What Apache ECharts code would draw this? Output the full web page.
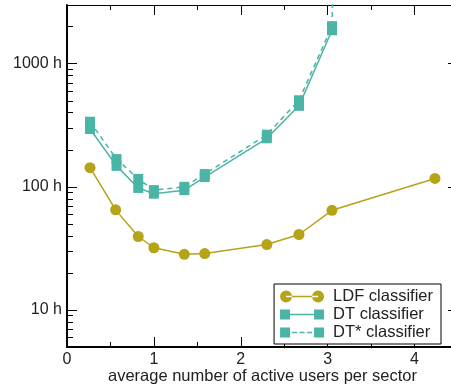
<!DOCTYPE html>
<html>
<head>
<meta charset="utf-8">
<script src="https://cdn.jsdelivr.net/npm/echarts@6/dist/echarts.min.js"></script>
<style>
  html, body { margin: 0; padding: 0; background: #fff; }
  #chart { width: 451px; height: 387px; }
</style>
</head>
<body>
<div id="chart"></div>
<script>
// 数据
const ldfX = [0.265, 0.56, 0.82, 1.0, 1.35, 1.585, 2.3, 2.67, 3.05, 4.235];
const ldfY = [143, 65, 39.5, 32, 28.3, 28.7, 34, 41, 64.5, 117];
const dtX = [0.265, 0.57, 0.82, 1.0, 1.35, 1.585, 2.3, 2.67, 3.05];
const dtY = [295, 148, 98, 88, 94, 120, 248, 455, 1870];
const dtStarX = [0.265, 0.57, 0.82, 1.0, 1.35, 1.585, 2.3, 2.67, 3.05, 3.07];
const dtStarY = [338, 168, 116, 94, 100, 127, 265, 505, 2020, 10000];
const xTicks = [0, 1, 2, 3, 4];
const yMajor = [10, 100, 1000];
const yMinor = [6, 7, 8, 9, 20, 30, 40, 50, 60, 70, 80, 90,
  200, 300, 400, 500, 600, 700, 800, 900, 2000, 3000];

const olive = "#b5a318";
const teal = "#4ab4a6";
const font = "Liberation Sans, Arial, sans-serif";

function pairs(xs, ys) {
    return xs.map(function (x, i) { return [x, ys[i]]; });
}

let chart = echarts.init(document.getElementById("chart"));

const baseX = {
    type: "value",
    min: 0,
    max: 4.5,
    interval: 1,
    splitLine: { show: false },
    axisLine: { onZero: false, lineStyle: { color: "#000", width: 1 } },
    axisTick: { inside: true, length: 10, lineStyle: { color: "#000" } },
    minorTick: { show: true, splitNumber: 2, length: 5, lineStyle: { color: "#000" } },
};

chart.setOption({
    animation: false,
    textStyle: { fontFamily: font },
    grid: {
        left: 67, top: 5, bottom: 40, right: -7,
        containLabel: false,
        outerBoundsMode: "none",
    },
    xAxis: [
        Object.assign({}, baseX, {
            position: "bottom",
            axisLine: { onZero: false, lineStyle: { color: "#000", width: 2 } },
            axisLabel: {
                customValues: xTicks,
                fontSize: 16,
                color: "#222",
                margin: 5,
                fontFamily: font,
            },
            name: "average number of active users per sector",
            nameLocation: "middle",
            nameGap: 21,
            nameMoveOverlap: false,
            nameTextStyle: { fontSize: 16.5, color: "#222", fontFamily: font },
        }),
        Object.assign({}, baseX, {
            position: "top",
            axisLabel: { show: false },
        }),
    ],
    yAxis: [
        {
            type: "log",
            logBase: 10,
            min: 5,
            max: 3000,
            position: "left",
            splitLine: { show: false },
            axisLine: { onZero: false, lineStyle: { color: "#000", width: 2 } },
            axisTick: {
                inside: true,
                length: 10,
                customValues: yMajor,
                lineStyle: { color: "#000" },
            },
            axisLabel: {
                customValues: yMajor,
                fontSize: 16,
                color: "#222",
                margin: 5,
                fontFamily: font,
                formatter: function (v) { return v + " h"; },
            },
        },
        {
            type: "log",
            logBase: 10,
            min: 5,
            max: 3000,
            position: "left",
            splitLine: { show: false },
            axisLine: { show: false, onZero: false },
            axisTick: {
                inside: true,
                length: 6,
                customValues: yMinor,
                lineStyle: { color: "#000" },
            },
            axisLabel: { show: false },
        },
        {
            type: "log",
            logBase: 10,
            min: 5,
            max: 3000,
            position: "right",
            splitLine: { show: false },
            axisLine: { onZero: false, lineStyle: { color: "#000" } },
            axisTick: {
                inside: true,
                length: 10,
                customValues: yMajor,
                lineStyle: { color: "#000" },
            },
            axisLabel: { show: false },
        },
    ],
    legend: {
        orient: "vertical",
        right: 10,
        top: 284,
        backgroundColor: "#fff",
        borderColor: "#000",
        borderWidth: 1,
        borderRadius: 0,
        padding: [4, 8, 3, 6],
        itemGap: 1,
        itemWidth: 44,
        itemHeight: 12,
        textStyle: { fontSize: 16.5, color: "#222", fontFamily: font, padding: [0, 0, 0, 4] },
        data: [
            {
                name: "LDF classifier",
                icon: "path://M0,6A6,6,0,1,0,12,6A6,6,0,1,0,0,6Z M32,6A6,6,0,1,0,44,6A6,6,0,1,0,32,6Z M6,5.3H38V6.7H6Z",
            },
            {
                name: "DT classifier",
                icon: "path://M0,0H10V10H0Z M34,0H44V10H34Z M10,4.3H34V5.7H10Z",
            },
            {
                name: "DT* classifier",
                icon: "path://M0,0H10V10H0Z M34,0H44V10H34Z M12,4.3H17V5.7H12Z M19.5,4.3H24.5V5.7H19.5Z M27,4.3H32V5.7H27Z",
            },
        ],
    },
    series: [
        {
            name: "LDF classifier",
            type: "line",
            xAxisIndex: 0,
            yAxisIndex: 0,
            data: pairs(ldfX, ldfY),
            color: olive,
            symbol: "circle",
            symbolSize: 11,
            lineStyle: { width: 1.5, color: olive },
            itemStyle: { color: olive },
        },
        {
            name: "DT classifier",
            type: "line",
            xAxisIndex: 0,
            yAxisIndex: 0,
            data: pairs(dtX, dtY),
            color: teal,
            symbol: "rect",
            symbolSize: 10,
            lineStyle: { width: 1.5, color: teal },
            itemStyle: { color: teal },
        },
        {
            name: "DT* classifier",
            type: "line",
            xAxisIndex: 0,
            yAxisIndex: 0,
            data: pairs(dtStarX, dtStarY),
            color: teal,
            symbol: "rect",
            symbolSize: 10,
            clip: true,
            lineStyle: { width: 1.5, color: teal, type: [5, 4] },
            itemStyle: { color: teal },
        },
    ],
});

window.onresize = function () {
    chart.resize();
};
</script>
</body>
</html>
